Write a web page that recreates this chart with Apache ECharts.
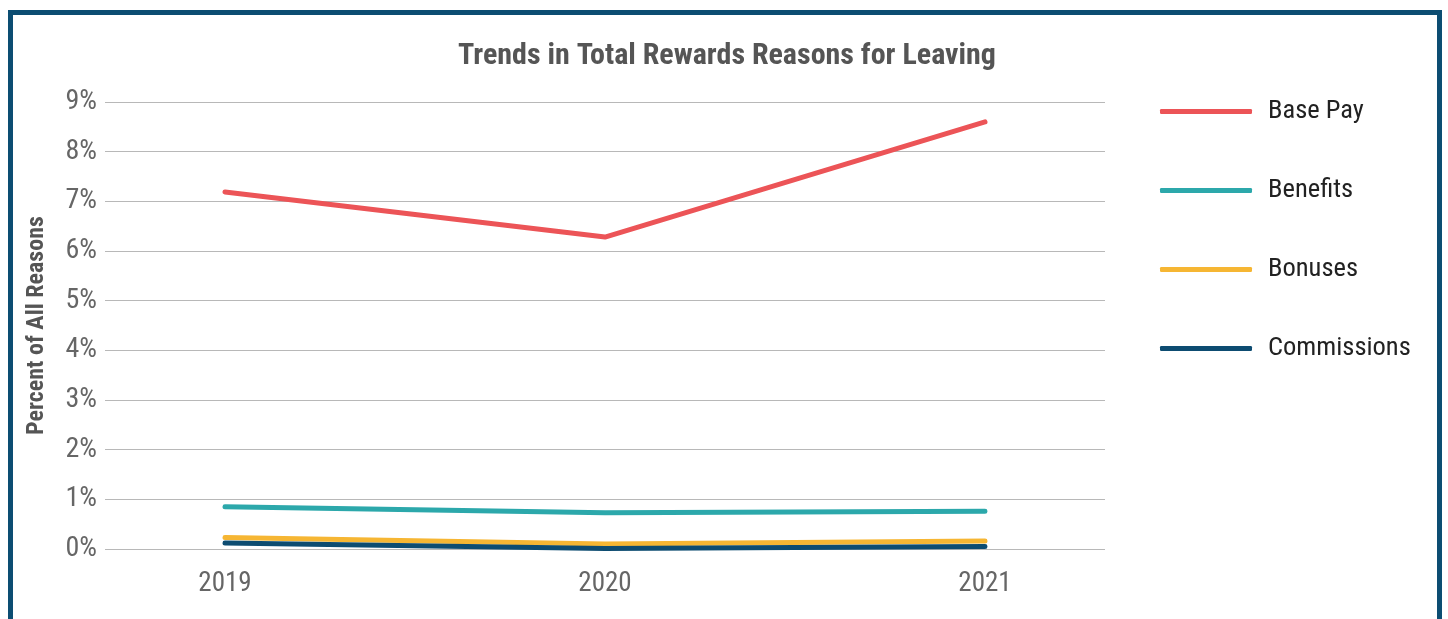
<!DOCTYPE html>
<html>
<head>
<meta charset="utf-8">
<script src="https://cdn.jsdelivr.net/npm/echarts@6/dist/echarts.min.js"></script>
<style>
  html, body { margin: 0; padding: 0; background: #fff; }
  #frame { position: absolute; left: 8px; top: 10px; width: 1424px; height: 700px; border: 5px solid #0C4D72; }
  #chart { position: absolute; left: 0; top: 0; width: 1448px; height: 619px; }
</style>
</head>
<body>
<div id="frame"></div>
<div id="chart"></div>
<script>
const years = [2019, 2020, 2021];
const seriesNames = ['Base Pay', 'Benefits', 'Bonuses', 'Commissions'];
const basePay = [7.19, 6.28, 8.6];
const benefits = [0.85, 0.73, 0.76];
const bonuses = [0.23, 0.1, 0.16];
const commissions = [0.12, 0.01, 0.05];
const yTicks = [0, 1, 2, 3, 4, 5, 6, 7, 8, 9];
const colors = ['#EC5457', '#2CA8AB', '#F6B633', '#0D4C71'];

const font = "'Liberation Sans Narrow', 'Roboto Condensed', 'DejaVu Sans Condensed', Roboto, sans-serif";
const allValues = [basePay, benefits, bonuses, commissions];
const pad = 0.3158;

const chart = echarts.init(document.getElementById('chart'));
chart.setOption({
  animation: false,
  color: colors,
  title: {
    text: 'Trends in Total Rewards Reasons for Leaving',
    left: 722, top: 36, textAlign: 'center',
    textStyle: { fontFamily: font, fontWeight: 'bold', fontSize: 30, color: '#555' }
  },
  legend: {
    orient: 'vertical', left: 1155, top: 93,
    icon: 'roundRect', itemWidth: 92, itemHeight: 5, itemGap: 52,
    textStyle: { fontFamily: font, fontSize: 26.5, color: '#222', padding: [0, 0, 0, 11] },
    data: seriesNames
  },
  grid: { left: 105, right: 343, top: 102, bottom: 70 },
  xAxis: {
    type: 'value', min: years[0] - pad, max: years[years.length - 1] + pad,
    axisLine: { show: false }, axisTick: { show: false }, splitLine: { show: false },
    axisLabel: { customValues: years, margin: 22, fontFamily: font, fontSize: 27, color: '#666', formatter: v => String(v) }
  },
  yAxis: {
    type: 'value', min: yTicks[0], max: yTicks[yTicks.length - 1], interval: 1,
    name: 'Percent of All Reasons', nameLocation: 'middle', nameGap: 56,
    nameTextStyle: { fontFamily: font, fontWeight: 'bold', fontSize: 24, color: '#555' },
    axisLine: { show: false }, axisTick: { show: false },
    splitLine: { lineStyle: { color: '#B8B8B8', width: 1.2 } },
    axisLabel: { margin: 8, fontFamily: font, fontSize: 28, color: '#666', formatter: v => v + '%' }
  },
  series: seriesNames.map((n, i) => ({
    name: n, type: 'line', symbol: 'none',
    lineStyle: { width: 5, cap: 'round', join: 'round' },
    data: years.map((y, j) => [y, allValues[i][j]])
  }))
});
</script>
</body>
</html>
